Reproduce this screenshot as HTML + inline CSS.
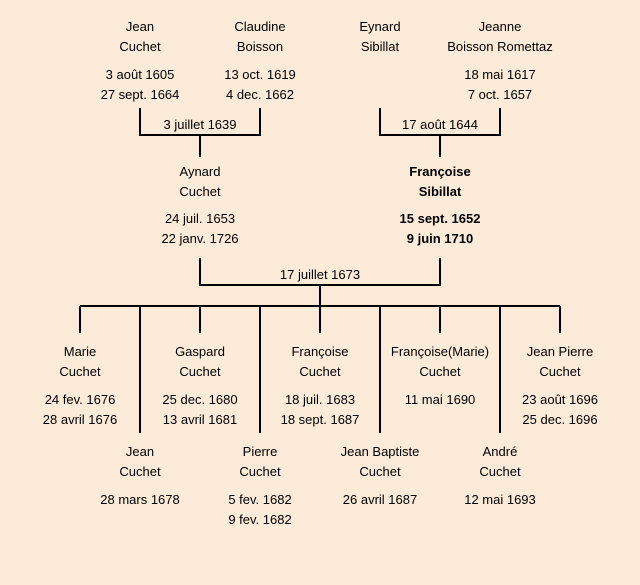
<!DOCTYPE html>
<html><head><meta charset="utf-8"><style>
html,body{margin:0;padding:0}
body{width:640px;height:585px;background:#fcebd8;position:relative;overflow:hidden;font-family:"Liberation Sans","DejaVu Sans",sans-serif;font-size:13px;color:#000}
.t{position:absolute;width:160px;margin-left:-80px;text-align:center;line-height:20px;white-space:nowrap}
.b{font-weight:bold}
svg{position:absolute;left:0;top:0}
</style></head><body>
<svg width="640" height="585">
<g stroke="#000" stroke-width="2" fill="none">
<path d="M140,108V135H260V108M200,135V157"/>
<path d="M380,108V135H500V108M440,135V157"/>
<path d="M200,258V285H440V258M320,285V306"/>
<path d="M80,306H560"/>
<path d="M80,306V333M200,306V333M320,306V333M440,306V333M560,306V333"/>
<path d="M140,306V433M260,306V433M380,306V433M500,306V433"/>
</g>
</svg>
<div class="t" style="left:140px;top:17px">Jean<br>Cuchet</div>
<div class="t" style="left:140px;top:65px">3 août 1605<br>27 sept. 1664</div>
<div class="t" style="left:260px;top:17px">Claudine<br>Boisson</div>
<div class="t" style="left:260px;top:65px">13 oct. 1619<br>4 dec. 1662</div>
<div class="t" style="left:380px;top:17px">Eynard<br>Sibillat</div>
<div class="t" style="left:500px;top:17px">Jeanne<br>Boisson Romettaz</div>
<div class="t" style="left:500px;top:65px">18 mai 1617<br>7 oct. 1657</div>
<div class="t" style="left:200px;top:115px">3 juillet 1639</div>
<div class="t" style="left:440px;top:115px">17 août 1644</div>
<div class="t" style="left:200px;top:162px">Aynard<br>Cuchet</div>
<div class="t" style="left:200px;top:209px">24 juil. 1653<br>22 janv. 1726</div>
<div class="t b" style="left:440px;top:162px">Françoise<br>Sibillat</div>
<div class="t b" style="left:440px;top:209px">15 sept. 1652<br>9 juin 1710</div>
<div class="t" style="left:320px;top:265px">17 juillet 1673</div>

<div class="t" style="left:80px;top:342px">Marie<br>Cuchet</div>
<div class="t" style="left:80px;top:390px">24 fev. 1676<br>28 avril 1676</div>
<div class="t" style="left:200px;top:342px">Gaspard<br>Cuchet</div>
<div class="t" style="left:200px;top:390px">25 dec. 1680<br>13 avril 1681</div>
<div class="t" style="left:320px;top:342px">Françoise<br>Cuchet</div>
<div class="t" style="left:320px;top:390px">18 juil. 1683<br>18 sept. 1687</div>
<div class="t" style="left:440px;top:342px">Françoise(Marie)<br>Cuchet</div>
<div class="t" style="left:440px;top:390px">11 mai 1690</div>
<div class="t" style="left:560px;top:342px">Jean Pierre<br>Cuchet</div>
<div class="t" style="left:560px;top:390px">23 août 1696<br>25 dec. 1696</div>

<div class="t" style="left:140px;top:442px">Jean<br>Cuchet</div>
<div class="t" style="left:140px;top:490px">28 mars 1678</div>
<div class="t" style="left:260px;top:442px">Pierre<br>Cuchet</div>
<div class="t" style="left:260px;top:490px">5 fev. 1682<br>9 fev. 1682</div>
<div class="t" style="left:380px;top:442px">Jean Baptiste<br>Cuchet</div>
<div class="t" style="left:380px;top:490px">26 avril 1687</div>
<div class="t" style="left:500px;top:442px">André<br>Cuchet</div>
<div class="t" style="left:500px;top:490px">12 mai 1693</div>
</body></html>
